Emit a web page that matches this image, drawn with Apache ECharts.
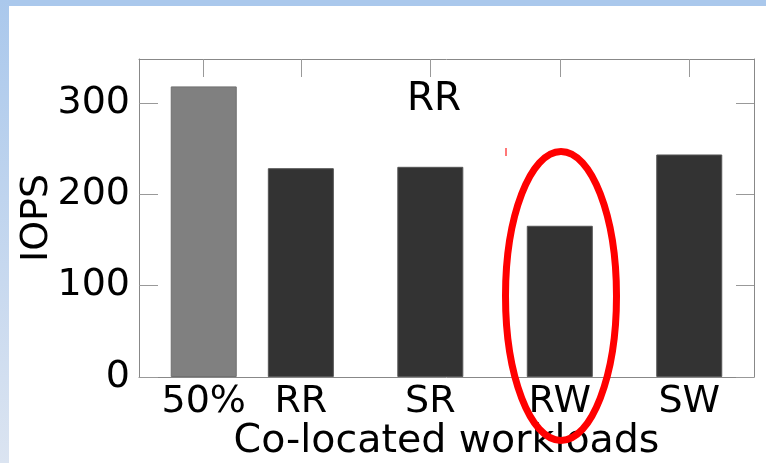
<!DOCTYPE html>
<html><head><meta charset="utf-8">
<script src="https://cdn.jsdelivr.net/npm/echarts@6/dist/echarts.min.js"></script>
<style>html,body{margin:0;padding:0;background:#fff}#c{width:766px;height:463px}</style>
</head><body><div id="c"></div>
<script>
// ---- data ----
const categories = ['50%', 'RR', 'SR', 'RW', 'SW'];
const positions = [0.25, 1, 2, 3, 4];
const iops = [318, 228.5, 230, 165.5, 243.5];
const barColors = ['#808080', '#333333', '#333333', '#333333', '#333333'];
const yTicks = [0, 100, 200, 300];
const panelTitle = 'RR';
const xName = 'Co-located workloads';
const yName = 'IOPS';

// ---- chart ----
const FONT = 'DejaVu Sans';
const chart = echarts.init(document.getElementById('c'), null, {renderer: 'canvas'});
const catOf = v => { for (let i = 0; i < positions.length; i++) if (Math.abs(positions[i] - v) < 1e-6) return categories[i]; return ''; };
const axisLine = {show: true, onZero: false, lineStyle: {color: '#888', width: 1}};
const xBase = {type: 'value', min: -0.25, max: 4.5, splitLine: {show: false}, axisLine: axisLine};
const yBase = {type: 'value', min: 0, max: 348, splitLine: {show: false}, axisLine: axisLine};

chart.setOption({
  animation: false,
  backgroundColor: '#ffffff',
  grid: {left: 139, right: 12, top: 59, bottom: 86, containLabel: false, outerBoundsMode: 'none'},
  xAxis: [
    Object.assign({}, xBase, {
      position: 'bottom',
      name: xName, nameLocation: 'middle', nameGap: 45, nameMoveOverlap: false,
      nameTextStyle: {fontFamily: FONT, fontSize: 39.5, color: '#000'},
      axisTick: {show: true, inside: true, length: 18, customValues: positions, lineStyle: {color: '#999'}},
      axisLabel: {show: true, customValues: positions, formatter: v => catOf(v), margin: 6,
        fontFamily: FONT, fontSize: 38, color: '#000'}
    }),
    Object.assign({}, xBase, {
      position: 'top',
      axisTick: {show: true, inside: true, length: 18, customValues: positions, lineStyle: {color: '#999'}},
      axisLabel: {show: false}
    })
  ],
  yAxis: [
    Object.assign({}, yBase, {
      position: 'left',
      name: yName, nameLocation: 'middle', nameGap: 83, nameRotate: 90, nameMoveOverlap: false,
      nameTextStyle: {fontFamily: FONT, fontSize: 38, color: '#000'},
      axisTick: {show: true, inside: true, length: 19, customValues: yTicks, lineStyle: {color: '#999'}},
      axisLabel: {show: true, customValues: yTicks, margin: 9, fontFamily: FONT, fontSize: 38, color: '#000'}
    }),
    Object.assign({}, yBase, {
      position: 'right',
      axisTick: {show: true, inside: true, length: 18, customValues: yTicks, lineStyle: {color: '#999'}},
      axisLabel: {show: false}
    })
  ],
  series: [{
    type: 'bar',
    xAxisIndex: 0, yAxisIndex: 0,
    barWidth: 66,
    data: positions.map((p, i) => ({value: [p, iops[i]], itemStyle: {color: barColors[i], borderColor: i === 0 ? '#707070' : '#555', borderWidth: 1}}))
  }],
  graphic: [
    {type: 'rect', z: 100, shape: {x: 0, y: 0, width: 766, height: 6}, style: {fill: '#aac8ec'}},
    {type: 'rect', z: 100, shape: {x: 0, y: 0, width: 9, height: 463},
      style: {fill: new echarts.graphic.LinearGradient(0, 0, 0, 1, [{offset: 0, color: '#aac8ec'}, {offset: 1, color: '#dbe4f1'}])}},
    {type: 'text', z: 100, style: {text: panelTitle, x: 434, y: 100, align: 'center', verticalAlign: 'middle',
      font: '39px "DejaVu Sans"', fill: '#000'}},
    {type: 'ellipse', z: 110, shape: {cx: 561, cy: 296, rx: 55.5, ry: 144.5}, style: {fill: 'none', stroke: '#ff0000', lineWidth: 7}},
    {type: 'rect', z: 110, shape: {x: 505, y: 148, width: 2, height: 8}, style: {fill: '#f77'}}
  ]
});
</script>
</body></html>
